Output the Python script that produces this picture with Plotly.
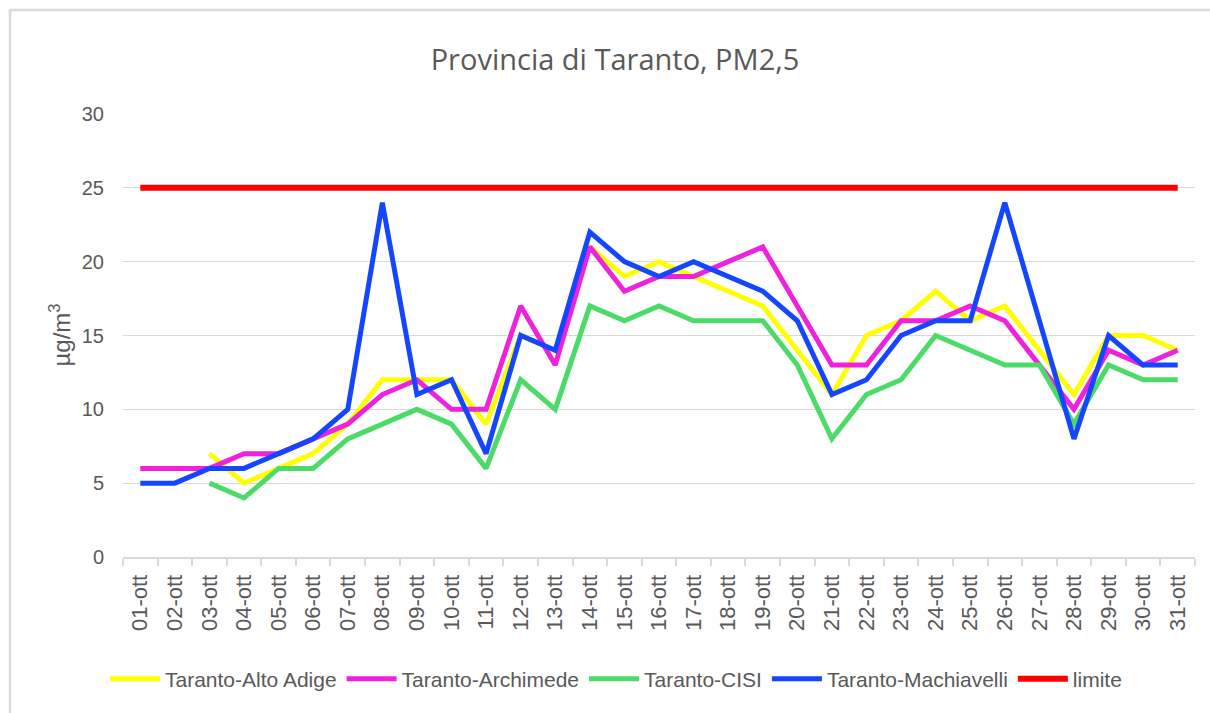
import plotly.graph_objects as go

days = [f"{d:02d}-ott" for d in range(1, 32)]

alto_adige = [None, None, 7, 5, 6, 7, 9, 12, 12, 12, 9, 15, 14, 21, 19, 20, 19, 18, 17, 14,
              11, 15, 16, 18, 16, 17, 14, 11, 15, 15, 14]
archimede = [6, 6, 6, 7, 7, 8, 9, 11, 12, 10, 10, 17, 13, 21, 18, 19, 19, 20, 21, 17,
             13, 13, 16, 16, 17, 16, 13, 10, 14, 13, 14]
cisi = [None, None, 5, 4, 6, 6, 8, 9, 10, 9, 6, 12, 10, 17, 16, 17, 16, 16, 16, 13,
        8, 11, 12, 15, 14, 13, 13, 9, 13, 12, 12]
machiavelli = [5, 5, 6, 6, 7, 8, 10, 24, 11, 12, 7, 15, 14, 22, 20, 19, 20, 19, 18, 16,
               11, 12, 15, 16, 16, 24, 16, 8, 15, 13, 13]
limite = [25] * 31

series = [
    ("Taranto-Alto Adige", alto_adige, "#FFFF00"),
    ("Taranto-Archimede", archimede, "#EE22DD"),
    ("Taranto-CISI", cisi, "#4CDB68"),
    ("Taranto-Machiavelli", machiavelli, "#1446FF"),
    ("limite", limite, "#FF0000"),
]

FONT = "Liberation Sans, Arial, sans-serif"
GRAY = "#595959"

fig = go.Figure()
for name, vals, color in series:
    fig.add_trace(go.Scatter(
        x=days, y=vals, name=name, mode="lines",
        line=dict(color=color, width=5 if name != "limite" else 6),
        connectgaps=False,
    ))

fig.update_layout(
    width=1210, height=713,
    margin=dict(l=123, r=15, t=114, b=156),
    paper_bgcolor="white", plot_bgcolor="white",
    font=dict(family=FONT, color=GRAY, size=19),
    title=dict(text="Provincia di Taranto, PM2,5", x=(615 - 123) / 1072, xref="paper",
               xanchor="center", y=1 - 60 / 713, yanchor="middle",
               font=dict(family="Open Sans, Liberation Sans, sans-serif", size=29, color=GRAY)),
    showlegend=True,
    legend=dict(orientation="h", x=(616 - 123) / 1072, xanchor="center",
                y=(557 - 679) / 443, yanchor="middle",
                font=dict(family=FONT, size=21, color=GRAY), itemwidth=50,
                tracegroupgap=0),
    xaxis=dict(type="category", categoryorder="array", categoryarray=days,
               range=[-0.5, 30.5], tickangle=-90, tickson="boundaries",
               ticks="outside", ticklen=7, tickcolor="#d9d9d9", tickwidth=1.5,
               showline=True, linecolor="#d9d9d9", linewidth=2,
               ticklabelstandoff=7,
               showgrid=False, tickfont=dict(family=FONT, size=22, color=GRAY)),
    yaxis=dict(range=[0, 30], tickvals=[0, 5, 10, 15, 20, 25, 30],
               showgrid=True, gridcolor="#d9d9d9", gridwidth=1.3,
               zeroline=False, showline=False, ticks="", ticklabelstandoff=18,
               tickfont=dict(family=FONT, size=20, color=GRAY)),
)

fig.add_annotation(text="µg/m<sup>3</sup>", xref="paper", yref="paper",
                   x=(59 - 123) / 1072, y=0.5, textangle=-90, showarrow=False,
                   xanchor="center", yanchor="middle",
                   font=dict(family=FONT, size=24, color=GRAY))

# chart-area border (top and left edges visible in the reference)
bx0, by1, by0, bx1 = (10 - 123) / 1072, (557 - 10) / 443, (557 - 730) / 443, (1230 - 123) / 1072
fig.add_shape(type="line", xref="paper", yref="paper", x0=bx0, x1=bx1, y0=by1, y1=by1,
              line=dict(color="#d9d9d9", width=2.5), layer="below")
fig.add_shape(type="line", xref="paper", yref="paper", x0=bx0, x1=bx0, y0=by0, y1=by1,
              line=dict(color="#d9d9d9", width=2.5), layer="below")

fig.write_html("out.html", config={"displayModeBar": False},
               post_script="document.body.style.margin='0';document.body.style.overflow='hidden';")
